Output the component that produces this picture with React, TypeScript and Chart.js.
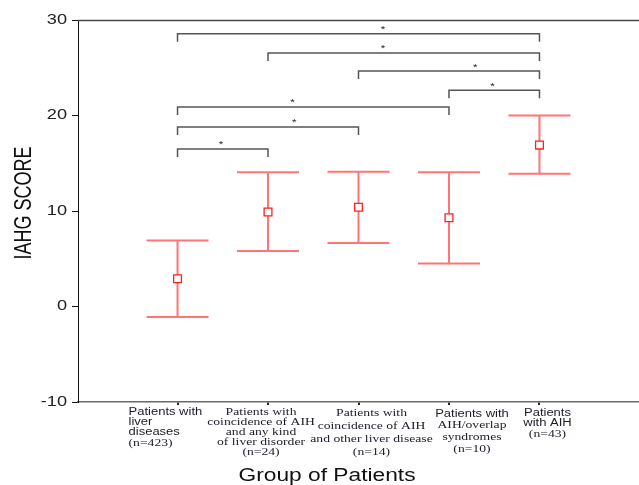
import React, { useEffect, useRef } from "react";
import { Chart, registerables } from "chart.js";

Chart.register(...registerables);

// ---- data ----
const groupLabels: string[][] = [
  ["Patients with", "liver", "diseases", "(n=423)"],
  ["Patients with", "coincidence of AIH", "and any kind", "of liver disorder", "(n=24)"],
  ["Patients with", "coincidence of AIH", "and other liver disease", "(n=14)"],
  ["Patients with", "AIH/overlap", "syndromes", "(n=10)"],
  ["Patients", "with AIH", "(n=43)"],
];
const groupIndex = [1, 2, 3, 4, 5];
const meanScores = [2.9, 9.9, 10.4, 9.3, 16.9];
const upperScores = [6.9, 14.05, 14.1, 14.05, 20.0];
const lowerScores = [-1.1, 5.8, 6.65, 4.5, 13.9];

const bracketFrom = [1, 2, 3, 4, 1, 1, 1];
const bracketTo = [5, 5, 5, 5, 4, 3, 2];
const bracketLevel = [28.55, 26.55, 24.65, 22.65, 20.9, 18.8, 16.5];
const bracketStarX = [3.27, 3.27, 4.29, 4.48, 2.27, 2.29, 1.48];
const bracketMark = "*";

const yAxisTitle = "IAHG SCORE";
const xAxisTitle = "Group of Patients";

// ---- layout/style (not data) ----
const SX = 1.3; // horizontal text stretch of the reference
const SANS = '"Liberation Sans", Arial, sans-serif';
const SERIF = '"Liberation Serif", "Times New Roman", serif';
const labelLayout = [
  { dx: -49, align: "left", dys: [10, 20, 30, 41], sans: [true, true, true, false] },
  { dx: -7, align: "center", dys: [10, 20, 30, 40, 50], sans: [false, false, false, false, false] },
  { dx: 13, align: "center", dys: [11, 24, 37, 50], sans: [false, false, false, false] },
  { dx: 23, align: "center", dys: [12, 23, 35, 47], sans: [true, false, false, false] },
  { dx: 8, align: "center", dys: [11, 21, 32], sans: [true, true, false] },
];

function stretchedText(
  ctx: CanvasRenderingContext2D,
  text: string,
  x: number,
  y: number,
  font: string,
  align: CanvasTextAlign,
  color: string
) {
  ctx.save();
  ctx.translate(x, y);
  ctx.scale(SX, 1);
  ctx.font = font;
  ctx.textAlign = align;
  ctx.textBaseline = "middle";
  ctx.fillStyle = color;
  ctx.fillText(text, 0, 0);
  ctx.restore();
}

const decorPlugin = {
  id: "decor",
  beforeDatasetsDraw(chart: any) {
    const { ctx, chartArea, scales } = chart;
    const xs = scales.x;
    const ys = scales.y;
    ctx.save();
    // top frame line
    ctx.strokeStyle = "#4a4a4a";
    ctx.lineWidth = 1.5;
    ctx.beginPath();
    ctx.moveTo(chartArea.left, chartArea.top + 0.5);
    ctx.lineTo(chartArea.right, chartArea.top + 0.5);
    ctx.stroke();

    // error bars
    ctx.strokeStyle = "rgba(255,70,70,0.75)";
    ctx.lineWidth = 2;
    const cap = 31;
    groupIndex.forEach((g, i) => {
      const px = xs.getPixelForValue(g);
      const pu = ys.getPixelForValue(upperScores[i]);
      const pl = ys.getPixelForValue(lowerScores[i]);
      ctx.beginPath();
      ctx.moveTo(px, pu);
      ctx.lineTo(px, pl);
      ctx.moveTo(px - cap, pu);
      ctx.lineTo(px + cap, pu);
      ctx.moveTo(px - cap, pl);
      ctx.lineTo(px + cap, pl);
      ctx.stroke();
    });

    // significance brackets
    ctx.strokeStyle = "#555";
    ctx.lineWidth = 1.5;
    const leg = 8;
    bracketFrom.forEach((f, i) => {
      const x1 = xs.getPixelForValue(f);
      const x2 = xs.getPixelForValue(bracketTo[i]);
      const y = ys.getPixelForValue(bracketLevel[i]);
      ctx.beginPath();
      ctx.moveTo(x1, y + leg);
      ctx.lineTo(x1, y);
      ctx.lineTo(x2, y);
      ctx.lineTo(x2, y + leg);
      ctx.stroke();
      stretchedText(ctx, bracketMark, xs.getPixelForValue(bracketStarX[i]), y - 4, `9px ${SANS}`, "center", "#222");
    });
    ctx.restore();
  },
  afterDraw(chart: any) {
    const { ctx, chartArea, scales } = chart;
    const xs = scales.x;
    const ys = scales.y;
    // y tick labels
    ys.ticks.forEach((t: any) => {
      const py = ys.getPixelForValue(t.value);
      stretchedText(ctx, String(t.value), chartArea.left - 11, py, `14px ${SANS}`, "right", "#222");
    });
    // x category labels
    groupLabels.forEach((lines, i) => {
      const lay = labelLayout[i];
      const px = xs.getPixelForValue(groupIndex[i]) + lay.dx;
      lines.forEach((line, j) => {
        const font = lay.sans[j] ? `10px ${SANS}` : `10.5px ${SERIF}`;
        stretchedText(ctx, line, px, chartArea.bottom + lay.dys[j], font, lay.align as CanvasTextAlign, "#1c1c2a");
      });
    });
    // x title
    stretchedText(ctx, xAxisTitle, 327, 476, `17.5px ${SANS}`, "center", "#111");
    // y title
    ctx.save();
    ctx.translate(25, 203);
    ctx.scale(SX, 1);
    ctx.rotate(-Math.PI / 2);
    ctx.font = `18px ${SANS}`;
    ctx.textAlign = "center";
    ctx.textBaseline = "middle";
    ctx.fillStyle = "#111";
    ctx.fillText(yAxisTitle, 0, 0);
    ctx.restore();
  },
};

export default function App() {
  const ref = useRef<HTMLCanvasElement | null>(null);
  useEffect(() => {
    if (!ref.current) return;
    const chart = new Chart(ref.current, {
      type: "scatter",
      data: {
        datasets: [
          {
            data: groupIndex.map((g, i) => ({ x: g, y: meanScores[i] })),
            pointStyle: "rect",
            pointRadius: 5.5,
            pointHoverRadius: 5.5,
            borderColor: "#ff2020",
            backgroundColor: "#ffffff",
            borderWidth: 1.3,
          },
        ],
      },
      options: {
        animation: false,
        responsive: false,
        events: [],
        layout: { autoPadding: false, padding: { top: 20, right: 0, left: 0, bottom: 0 } },
        plugins: { legend: { display: false }, tooltip: { enabled: false } },
        scales: {
          x: {
            type: "linear",
            min: -0.1,
            max: 6.1,
            afterBuildTicks: (s: any) => {
              s.ticks = groupIndex.map((v) => ({ value: v }));
            },
            afterFit: (s: any) => {
              s.height = 83;
            },
            ticks: { display: false },
            grid: { drawOnChartArea: false, drawTicks: true, tickLength: 3, color: "#222", lineWidth: 2 },
            border: { display: true, color: "#6a6a6a", width: 1.5 },
          },
          y: {
            min: -10,
            max: 30,
            ticks: { display: false, stepSize: 10 },
            afterFit: (s: any) => {
              s.width = 78;
            },
            grid: { drawOnChartArea: false, drawTicks: true, tickLength: 6, color: "#111", lineWidth: 1 },
            border: { display: true, color: "#111", width: 1 },
          },
        },
      },
      plugins: [decorPlugin],
    });
    return () => chart.destroy();
  }, []);
  return (
    <div style={{ position: "absolute", left: 0, top: 0, width: 639, height: 485, background: "#fff" }}>
      <canvas ref={ref} width={639} height={485} />
    </div>
  );
}
